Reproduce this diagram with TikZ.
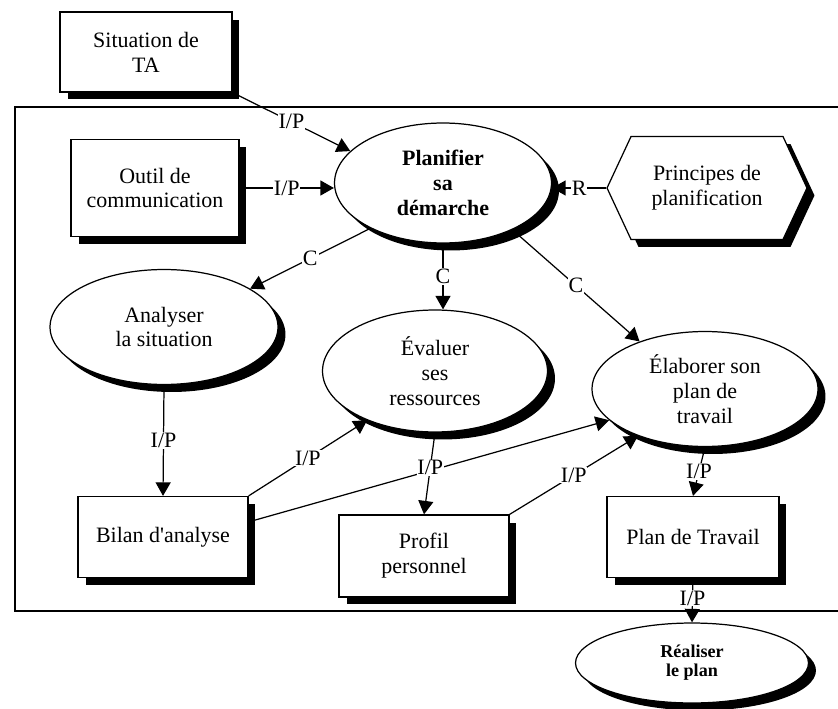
\documentclass[tikz,border=0pt]{standalone}
\usepackage{fontspec}
\setmainfont{Liberation Serif}
\usetikzlibrary{arrows.meta,shapes.geometric,shapes.symbols,shadows}
\tikzset{
  txt/.style={font=\fontsize{12.5}{14.2}\selectfont, align=center},
  ombre/.style={drop shadow={shadow xshift=0.15cm, shadow yshift=-0.15cm, fill=black, opacity=1}},
  boite/.style={txt, draw, fill=white, line width=0.7pt, inner sep=2pt, ombre},
  tache/.style={txt, ellipse, draw, fill=white, line width=0.7pt, inner sep=1pt, ombre},
  regle/.style={txt, signal, signal to=west and east, signal pointer angle=130, draw, fill=white, line width=0.7pt, ombre},
  fl/.style={-{Triangle[length=0.27cm,width=0.3cm]}, line width=0.7pt},
  et/.style={txt, fill=white, inner sep=0.5pt}
}

\begin{document}
\begin{tikzpicture}[x=0.02cm, y=-0.02cm]
\useasboundingbox (0,0) rectangle (838,709);
% cadre de la tache
\draw[line width=0.7pt] (838,107) -- (15,107) -- (15,611) -- (838,611);

\node[boite, minimum width=3.44cm, minimum height=1.6cm] (situation) at (146,52) {Situation de\\TA};
\node[boite, minimum width=3.36cm, minimum height=1.94cm] (outil) at (155,188) {Outil de\\communication};
\node[tache, minimum width=4.34cm, minimum height=2.4cm, font=\fontsize{12.5}{14.2}\selectfont\bfseries] (planif) at (443,183) {Planifier\\sa\\démarche};
\node[regle, minimum width=4cm, minimum height=2.06cm] (principes) at (707,188) {Principes de\\planification};

\node[tache, minimum width=4.56cm, minimum height=2.3cm] (analyser) at (164,327) {Analyser\\la situation};
\node[tache, minimum width=4.5cm, minimum height=2.44cm] (evaluer) at (435,371) {Évaluer\\ses\\ressources};
\node[tache, minimum width=4.52cm, minimum height=2.3cm] (elaborer) at (705,389) {Élaborer son\\plan de\\travail};

\node[boite, minimum width=3.4cm, minimum height=1.62cm] (bilan) at (163,537) {Bilan d\textquotesingle analyse};
\node[boite, minimum width=3.4cm, minimum height=1.64cm] (profil) at (424,556) {Profil\\personnel};
\node[boite, minimum width=3.44cm, minimum height=1.62cm] (plan) at (693,537) {Plan de Travail};
\node[tache, minimum width=4.66cm, minimum height=1.6cm, font=\fontsize{10.3}{10.8}\selectfont\bfseries] (realiser) at (692,663) {Réaliser\\le plan};

% entrees, controles et regles
\draw[fl] (situation.south east) -- node[et]{I/P} (planif.161);
\draw[fl] (outil.east) -- node[et]{I/P} (outil.east -| planif.west);
\draw[fl] (principes.west) -- node[et]{R} (principes.west -| planif.east);
\draw[fl] (planif.212) -- node[et]{C} (analyser.24);
\draw[fl] (planif.south) -- node[et]{C} (planif.south |- evaluer.north);
\draw[fl] (planif.326) -- node[et]{C} (elaborer.144);
\draw[fl] (analyser.south) -- node[et]{I/P} (bilan.north);
\draw[fl] (bilan.north east) -- node[et]{I/P} (evaluer.216);
\draw[fl] (bilan.10) -- (elaborer.198);
\draw[fl] (evaluer.south) -- node[et, pos=0.43]{I/P} (profil.north);
\draw[fl] (profil.north east) -- node[et]{I/P} (elaborer.215);
\draw[fl] (elaborer.south) -- node[et]{I/P} (plan.north);
\draw[fl] (plan.south) -- node[et, pos=0.45]{I/P} (realiser.north);
\end{tikzpicture}
\end{document}
